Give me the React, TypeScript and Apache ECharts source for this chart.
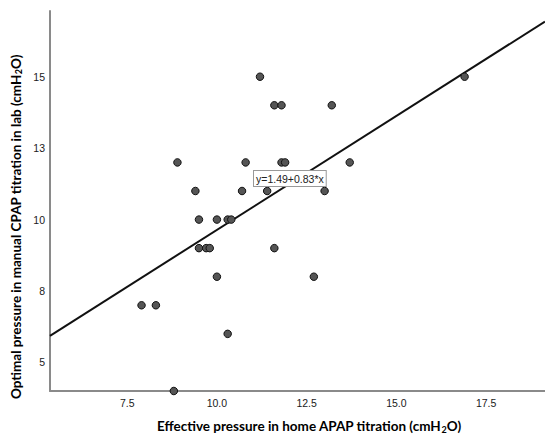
import React, { useEffect, useRef } from "react";
import * as echarts from "echarts";

// Effective pressure (home APAP) vs optimal pressure (manual CPAP), cmH2O
const apapX = [
  11.2, 16.9,
  11.6, 11.8, 13.2,
  8.9, 10.8, 11.8, 11.9, 13.7,
  9.4, 10.7, 11.4, 13.0,
  9.5, 10.0, 10.3, 10.4,
  9.5, 9.7, 9.8, 11.6,
  10.0, 12.7,
  7.9, 8.3,
  10.3,
  8.8,
];
const cpapY = [
  15, 15,
  14, 14, 14,
  12, 12, 12, 12, 12,
  11, 11, 11, 11,
  10, 10, 10, 10,
  9, 9, 9, 9,
  8, 8,
  7, 7,
  6,
  4,
];

// Fit line endpoints
const fitX = [5.35, 19.14];
const fitY = [5.93, 16.93];
const fitLabel = "y=1.49+0.83*x";

const xTickValues = [7.5, 10, 12.5, 15, 17.5];
const xTickLabels = ["7.5", "10.0", "12.5", "15.0", "17.5"];
const yTickValues = [5, 7.5, 10, 12.5, 15];
const yTickLabels = ["5", "8", "10", "13", "15"];

const xRange = [5.35, 19.14];
const yRange = [4, 17.3];

export default function App() {
  const ref = useRef<HTMLDivElement>(null);
  useEffect(() => {
    if (!ref.current) return;
    const chart = echarts.init(ref.current, undefined, { renderer: "svg" });
    const titleFont = "Lato";
    const rich = {
      sub: { fontSize: 9, fontWeight: "bold", fontFamily: titleFont, color: "#1a1a1a", verticalAlign: "bottom", padding: [6, 0, 0, 0] },
      t: { fontSize: 13.5, fontWeight: "bold", fontFamily: titleFont, color: "#1a1a1a" },
    };
    chart.setOption({
      animation: false,
      backgroundColor: "#fff",
      grid: { left: 50, right: 0, top: 11, bottom: 46 },
      xAxis: {
        type: "value",
        min: xRange[0],
        max: xRange[1],
        splitLine: { show: false },
        axisTick: { show: false },
        axisLine: { show: true, lineStyle: { color: "#8a8a8a", width: 2 } },
        axisLabel: {
          customValues: xTickValues,
          formatter: (v: number) => {
            const i = xTickValues.findIndex((t) => Math.abs(t - v) < 1e-6);
            return i >= 0 ? xTickLabels[i] : "";
          },
          color: "#1a1a1a",
          fontSize: 10.5,
          fontFamily: "Liberation Sans",
          margin: 6,
        },
      },
      yAxis: {
        type: "value",
        min: yRange[0],
        max: yRange[1],
        splitLine: { show: false },
        axisTick: { show: false },
        axisLine: { show: true, lineStyle: { color: "#8a8a8a", width: 2 } },
        axisLabel: {
          customValues: yTickValues,
          formatter: (v: number) => {
            const i = yTickValues.findIndex((t) => Math.abs(t - v) < 1e-6);
            return i >= 0 ? yTickLabels[i] : "";
          },
          color: "#1a1a1a",
          fontSize: 10.5,
          fontFamily: "Liberation Sans",
          margin: 5,
        },
      },
      series: [
        {
          type: "line",
          data: fitX.map((x, i) => [x, fitY[i]]),
          symbol: "none",
          lineStyle: { color: "#111", width: 2 },
          z: 2,
        },
        {
          type: "scatter",
          data: apapX.map((x, i) => [x, cpapY[i]]),
          symbolSize: 7.5,
          itemStyle: { color: "#555", borderColor: "#111", borderWidth: 1, opacity: 1 },
          z: 3,
          clip: false,
        },
      ],
      graphic: [
        {
          type: "text",
          left: 157,
          top: 419,
          style: {
            text: "{t|Effective pressure in home APAP titration (cmH}{sub|2}{t|O)}",
            rich,
          },
          z: 10,
        },
        {
          type: "text",
          x: 8,
          y: 399,
          rotation: Math.PI / 2,
          style: {
            text: "{t|Optimal pressure in manual CPAP titration in lab (cmH}{sub|2}{t|O)}",
            rich,
          },
          z: 10,
        },
        {
          type: "text",
          x: 254,
          y: 171,
          style: {
            text: fitLabel,
            font: "10.5px 'Liberation Sans'",
            fill: "#222",
            backgroundColor: "#fff",
            borderColor: "#999",
            borderWidth: 1,
            padding: [2, 2, 2, 2],
          },
          z: 20,
        },
      ],
    });
    return () => chart.dispose();
  }, []);
  return <div ref={ref} style={{ width: 545, height: 437, position: "absolute", left: 0, top: 0 }} />;
}
